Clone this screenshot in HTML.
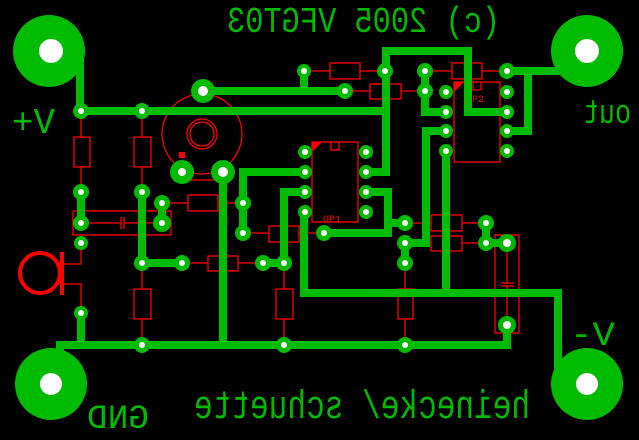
<!DOCTYPE html>
<html><head><meta charset="utf-8"><style>html,body{margin:0;padding:0;background:#000}svg{display:block}</style></head><body>
<svg width="639" height="440" viewBox="0 0 639 440" xmlns="http://www.w3.org/2000/svg">
<rect width="639" height="440" fill="#000"/>
<!-- red silkscreen -->
<g stroke="#f00" stroke-width="1.3" fill="none">
<line x1="81" y1="111" x2="81" y2="192"/><rect x="74" y="137" width="16" height="30" fill="#000"/>
<line x1="142" y1="111" x2="142" y2="192"/><rect x="134" y="137" width="17" height="30" fill="#000"/>
<line x1="162" y1="203" x2="243" y2="203"/><rect x="188" y="195" width="30" height="16" fill="#000"/>
<rect x="73" y="211" width="98" height="24"/>
<line x1="81" y1="223" x2="121" y2="223"/><line x1="124" y1="223" x2="162" y2="223"/>
<line x1="121" y1="217" x2="121" y2="229"/><line x1="124" y1="217" x2="124" y2="229"/>
<line x1="182" y1="263" x2="263" y2="263"/><rect x="208" y="256" width="30" height="15" fill="#000"/>
<line x1="142" y1="263" x2="142" y2="345"/><rect x="134" y="289" width="17" height="30" fill="#000"/>
<line x1="284" y1="263" x2="284" y2="345"/><rect x="276" y="289" width="17" height="30" fill="#000"/>
<line x1="243" y1="233" x2="324" y2="233"/><rect x="269" y="226" width="30" height="16" fill="#000"/>
<line x1="405" y1="223" x2="486" y2="223"/><rect x="431" y="215" width="31" height="16" fill="#000"/>
<line x1="405" y1="243" x2="486" y2="243"/><rect x="431" y="236" width="31" height="15" fill="#000"/>
<line x1="405" y1="263" x2="405" y2="345"/><rect x="398" y="289" width="15" height="30" fill="#000"/>
<line x1="304" y1="71" x2="385" y2="71"/><rect x="330" y="63" width="30" height="16" fill="#000"/>
<line x1="425" y1="71" x2="507" y2="71"/><rect x="452" y="63" width="30" height="16" fill="#000"/>
<line x1="345" y1="91" x2="425" y2="91"/><rect x="370" y="84" width="31" height="15" fill="#000"/>
<rect x="495" y="235" width="24" height="98"/>
<line x1="507" y1="243" x2="507" y2="283"/><line x1="507" y1="286" x2="507" y2="325"/>
<line x1="501" y1="283" x2="514" y2="283"/><line x1="501" y1="286" x2="514" y2="286"/>
<!-- OP1 -->
<rect x="312" y="142" width="46" height="80"/>
<path d="M331 142v8h8v-8"/>
<!-- OP2 -->
<rect x="454" y="82" width="46" height="80"/>
<path d="M473 82v8h8v-8"/>
<!-- pot -->
<circle cx="202" cy="134" r="40"/>
<circle cx="202" cy="134" r="15"/><circle cx="202" cy="134" r="12"/>
<line x1="182" y1="180" x2="223" y2="180"/>
<!-- mic -->
<circle cx="40" cy="273" r="20" stroke-width="4"/>
<line x1="62" y1="252" x2="62" y2="295" stroke-width="4"/>
<polyline points="63,264 81,264 81,243"/>
<polyline points="63,284 81,284 81,313"/>
</g>
<path d="M312 142h10l-10 10z M454 82h10l-10 10z" fill="#f00"/>
<rect x="179" y="152" width="6" height="6" fill="#f00"/>
<text x="323" y="222" font-family="Liberation Mono, monospace" font-size="10" fill="#f00">OP1</text>
<text x="466" y="102" font-family="Liberation Mono, monospace" font-size="10" fill="#f00">OP2</text>
<!-- traces -->
<g stroke="#00bb00" stroke-width="8" fill="none" stroke-linejoin="miter">
<polyline points="80,51 80,111 386,111"/>
<polyline points="366,172 386,172 386,51 468,51 468,112 507,112"/>
<polyline points="203,91 345,91"/>
<polyline points="304,71 304,91"/>
<polyline points="425,71 425,112 446,112"/>
<polyline points="507,71 560,71"/>
<polyline points="528,71 528,131 507,131"/>
<polyline points="446,131 426,131 426,243 405,243 405,263"/>
<polyline points="366,192 388,192 388,233 324,233"/>
<polyline points="388,223 405,223"/>
<polyline points="446,151 446,293"/>
<polyline points="304,213 304,293 558,293 558,372"/>
<polyline points="60,372 60,345 507,345 507,325"/>
<polyline points="81,313 81,345"/>
<polyline points="223,172 223,345"/>
<polyline points="81,192 81,223"/>
<polyline points="142,192 142,263 182,263"/>
<polyline points="162,203 162,223"/>
<polyline points="243,233 243,172 304,172"/>
<polyline points="304,192 284,192 284,263 263,263"/>
<polyline points="486,223 486,243 507,243"/>
</g>
<!-- big pads -->
<g fill="#00bb00">
<circle cx="49" cy="51" r="36"/><circle cx="587" cy="51" r="36"/>
<circle cx="51" cy="384" r="36"/><circle cx="587" cy="384" r="36"/>
</g>
<g fill="#fff">
<circle cx="51" cy="51" r="12"/><circle cx="587" cy="51" r="12"/>
<circle cx="51" cy="384" r="11"/><circle cx="587" cy="384" r="11"/>
</g>
<!-- pads -->
<g fill="#00bb00">
<circle cx="81" cy="111" r="8"/><circle cx="142" cy="111" r="8"/><circle cx="81" cy="192" r="8"/><circle cx="142" cy="192" r="8"/>
<circle cx="162" cy="203" r="8"/><circle cx="243" cy="203" r="8"/><circle cx="81" cy="223" r="8"/><circle cx="162" cy="223" r="9"/>
<circle cx="81" cy="243" r="7"/><circle cx="81" cy="313" r="7"/><circle cx="142" cy="263" r="8"/><circle cx="182" cy="263" r="8"/>
<circle cx="263" cy="263" r="8"/><circle cx="284" cy="263" r="8"/><circle cx="243" cy="233" r="8"/><circle cx="324" cy="233" r="8"/>
<circle cx="142" cy="345" r="8"/><circle cx="284" cy="345" r="8"/><circle cx="405" cy="345" r="8"/>
<circle cx="203" cy="91" r="12"/><circle cx="182" cy="172" r="12"/><circle cx="223" cy="172" r="12"/>
<circle cx="304" cy="71" r="7"/><circle cx="385" cy="71" r="8"/><circle cx="425" cy="71" r="8"/><circle cx="507" cy="71" r="8"/>
<circle cx="345" cy="91" r="8"/><circle cx="425" cy="91" r="8"/>
<circle cx="305" cy="152" r="7"/><circle cx="305" cy="172" r="7"/><circle cx="305" cy="192" r="7"/><circle cx="305" cy="212" r="7"/>
<circle cx="366" cy="152" r="7"/><circle cx="366" cy="172" r="7"/><circle cx="366" cy="192" r="7"/><circle cx="366" cy="212" r="7"/>
<circle cx="446" cy="92" r="7"/><circle cx="446" cy="112" r="7"/><circle cx="446" cy="131" r="7"/><circle cx="446" cy="151" r="7"/>
<circle cx="507" cy="92" r="7"/><circle cx="507" cy="112" r="7"/><circle cx="507" cy="131" r="7"/><circle cx="507" cy="151" r="7"/>
<circle cx="405" cy="223" r="8"/><circle cx="405" cy="243" r="8"/><circle cx="405" cy="263" r="8"/>
<circle cx="486" cy="223" r="8"/><circle cx="486" cy="243" r="8"/>
<circle cx="507" cy="243" r="9"/><circle cx="507" cy="325" r="9"/>
</g>
<g fill="#fff">
<circle cx="81" cy="111" r="3"/><circle cx="142" cy="111" r="3"/><circle cx="81" cy="192" r="3"/><circle cx="142" cy="192" r="3"/>
<circle cx="162" cy="203" r="3"/><circle cx="243" cy="203" r="3"/><circle cx="81" cy="223" r="3"/><circle cx="162" cy="223" r="3"/>
<circle cx="81" cy="243" r="3"/><circle cx="81" cy="313" r="3"/><circle cx="142" cy="263" r="3"/><circle cx="182" cy="263" r="3"/>
<circle cx="263" cy="263" r="3"/><circle cx="284" cy="263" r="3"/><circle cx="243" cy="233" r="3"/><circle cx="324" cy="233" r="3"/>
<circle cx="142" cy="345" r="3"/><circle cx="284" cy="345" r="3"/><circle cx="405" cy="345" r="3"/>
<circle cx="203" cy="91" r="5"/><circle cx="182" cy="172" r="4"/><circle cx="223" cy="172" r="5"/>
<circle cx="304" cy="71" r="3"/><circle cx="385" cy="71" r="3"/><circle cx="425" cy="71" r="3"/><circle cx="507" cy="71" r="3"/>
<circle cx="345" cy="91" r="3"/><circle cx="425" cy="91" r="3"/>
<circle cx="305" cy="152" r="3"/><circle cx="305" cy="172" r="3"/><circle cx="305" cy="192" r="3"/><circle cx="305" cy="212" r="3"/>
<circle cx="366" cy="152" r="3"/><circle cx="366" cy="172" r="3"/><circle cx="366" cy="192" r="3"/><circle cx="366" cy="212" r="3"/>
<circle cx="446" cy="92" r="3"/><circle cx="446" cy="112" r="3"/><circle cx="446" cy="131" r="3"/><circle cx="446" cy="151" r="3"/>
<circle cx="507" cy="92" r="3"/><circle cx="507" cy="112" r="3"/><circle cx="507" cy="131" r="3"/><circle cx="507" cy="151" r="3"/>
<circle cx="405" cy="223" r="3"/><circle cx="405" cy="243" r="3"/><circle cx="405" cy="263" r="3"/>
<circle cx="486" cy="223" r="3"/><circle cx="486" cy="243" r="3"/>
<circle cx="507" cy="243" r="4"/><circle cx="507" cy="325" r="4"/>
</g>
<!-- text -->
<g fill="#00bb00" font-family="Liberation Mono, monospace">
<text transform="scale(-1,1)" x="-500" y="32" font-size="36" textLength="273" lengthAdjust="spacingAndGlyphs">(c) 2005 VFGT03</text>
<text x="12" y="133" font-size="36" textLength="43" lengthAdjust="spacingAndGlyphs">+V</text>
<text transform="scale(-1,1)" x="-631" y="123" font-size="34" textLength="48" lengthAdjust="spacingAndGlyphs">out</text>
<text x="570" y="345" font-size="34" textLength="45" lengthAdjust="spacingAndGlyphs">-V</text>
<text transform="scale(-1,1)" x="-149" y="428" font-size="34" textLength="62" lengthAdjust="spacingAndGlyphs">GND</text>
<text transform="scale(-1,1)" x="-530" y="418" font-size="40" textLength="336" lengthAdjust="spacingAndGlyphs">heinecke/ schuette</text>
</g>
</svg>
</body></html>
